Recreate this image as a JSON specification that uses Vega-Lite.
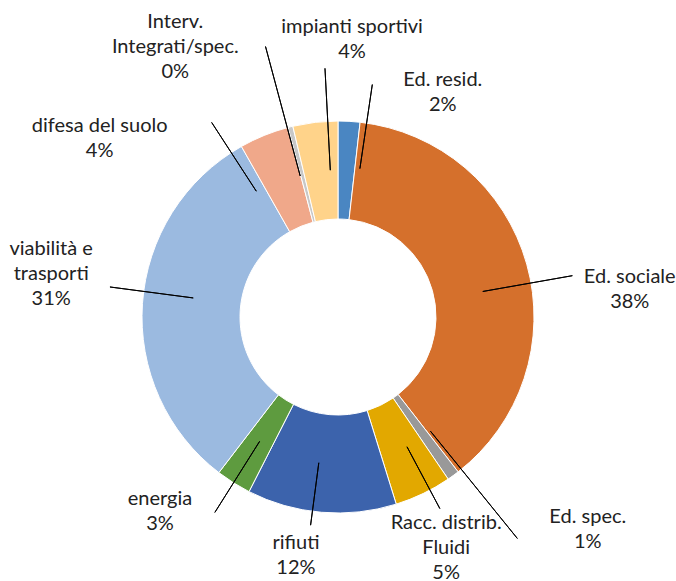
{
  "$schema": "https://vega.github.io/schema/vega-lite/v6.json",
  "width": 676,
  "height": 528,
  "autosize": {"type": "none"},
  "padding": {"left": 0, "right": 0, "top": 53, "bottom": 0},
  "background": "#ffffff",
  "config": {"view": {"stroke": null}, "text": {"font": "Lato", "fontSize": 20, "lineHeight": 25, "color": "#222222", "lineBreak": "\n", "align": "center", "baseline": "middle"}},
  "data": {"values": [
    {"idx": 1, "cat": "Ed. resid.", "label": "Ed. resid.\n2%", "value": 1.8},
    {"idx": 2, "cat": "Ed. sociale", "label": "Ed. sociale\n38%", "value": 37.7},
    {"idx": 3, "cat": "Ed. spec.", "label": "Ed. spec.\n1%", "value": 1.0},
    {"idx": 4, "cat": "Racc. distrib. Fluidi", "label": "Racc. distrib.\nFluidi\n5%", "value": 4.7},
    {"idx": 5, "cat": "rifiuti", "label": "rifiuti\n12%", "value": 12.3},
    {"idx": 6, "cat": "energia", "label": "energia\n3%", "value": 2.9},
    {"idx": 7, "cat": "viabilità e trasporti", "label": "viabilità e\ntrasporti\n31%", "value": 31.4},
    {"idx": 8, "cat": "difesa del suolo", "label": "difesa del suolo\n4%", "value": 4.1},
    {"idx": 9, "cat": "Interv. Integrati/spec.", "label": "Interv.\nIntegrati/spec.\n0%", "value": 0.4},
    {"idx": 10, "cat": "impianti sportivi", "label": "impianti sportivi\n4%", "value": 3.7}
  ]},
  "encoding": {
    "theta": {"field": "value", "type": "quantitative", "stack": true},
    "order": {"field": "idx", "type": "quantitative"}
  },
  "layer": [
    {
      "mark": {"type": "arc", "radius": 196, "radius2": 98, "stroke": "#ffffff", "strokeWidth": 1},
      "encoding": {
        "color": {"field": "cat", "type": "nominal", "legend": null,
          "scale": {"domain": ["Ed. resid.", "Ed. sociale", "Ed. spec.", "Racc. distrib. Fluidi", "rifiuti", "energia", "viabilità e trasporti", "difesa del suolo", "Interv. Integrati/spec.", "impianti sportivi"],
                    "range": ["#4A86C2", "#D5702C", "#999999", "#E2A800", "#3C63AC", "#5E9B3F", "#9BBAE0", "#F0A88A", "#C8C8C8", "#FFD38A"]}}
      }
    },
    {"layer": [
      {"mark": {"type": "arc", "radius": 235, "radius2": 150, "padAngle": 3.1, "thetaOffset": 0.09, "theta2Offset": 0.09, "fill": "#000000", "fillOpacity": 0, "stroke": "#000000", "strokeWidth": 1},
       "encoding": {"strokeOpacity": {"condition": {"test": "datum.cat === 'Ed. resid.'", "value": 1}, "value": 0}}},
      {"mark": {"type": "text", "radius": 248, "thetaOffset": 0.3798, "dy": -12.5},
       "encoding": {"text": {"condition": {"test": "datum.cat === 'Ed. resid.'", "field": "label", "type": "nominal"}, "value": ""}}}
    ]},
    {"layer": [
      {"mark": {"type": "arc", "radius": 238, "radius2": 147, "padAngle": 3.1, "thetaOffset": 0.0988, "theta2Offset": 0.0988, "fill": "#000000", "fillOpacity": 0, "stroke": "#000000", "strokeWidth": 1},
       "encoding": {"strokeOpacity": {"condition": {"test": "datum.cat === 'Ed. sociale'", "value": 1}, "value": 0}}},
      {"mark": {"type": "text", "radius": 293, "thetaOffset": 0.1808, "dy": -12.5},
       "encoding": {"text": {"condition": {"test": "datum.cat === 'Ed. sociale'", "field": "label", "type": "nominal"}, "value": ""}}}
    ]},
    {"layer": [
      {"mark": {"type": "arc", "radius": 285, "radius2": 147, "padAngle": 3.1, "thetaOffset": -0.0524, "theta2Offset": -0.0524, "fill": "#000000", "fillOpacity": 0, "stroke": "#000000", "strokeWidth": 1},
       "encoding": {"strokeOpacity": {"condition": {"test": "datum.cat === 'Ed. spec.'", "value": 1}, "value": 0}}},
      {"mark": {"type": "text", "radius": 328, "thetaOffset": -0.2374, "dy": -12.5},
       "encoding": {"text": {"condition": {"test": "datum.cat === 'Ed. spec.'", "field": "label", "type": "nominal"}, "value": ""}}}
    ]},
    {"layer": [
      {"mark": {"type": "arc", "radius": 217, "radius2": 147, "padAngle": 3.1, "thetaOffset": -0.0394, "theta2Offset": -0.0394, "fill": "#000000", "fillOpacity": 0, "stroke": "#000000", "strokeWidth": 1},
       "encoding": {"strokeOpacity": {"condition": {"test": "datum.cat === 'Racc. distrib. Fluidi'", "value": 1}, "value": 0}}},
      {"mark": {"type": "text", "radius": 255, "thetaOffset": 0.0112, "dy": -25},
       "encoding": {"text": {"condition": {"test": "datum.cat === 'Racc. distrib. Fluidi'", "field": "label", "type": "nominal"}, "value": ""}}}
    ]},
    {"layer": [
      {"mark": {"type": "arc", "radius": 210, "radius2": 147, "padAngle": 3.1, "thetaOffset": 0.0461, "theta2Offset": 0.0461, "fill": "#000000", "fillOpacity": 0, "stroke": "#000000", "strokeWidth": 1},
       "encoding": {"strokeOpacity": {"condition": {"test": "datum.cat === 'rifiuti'", "value": 1}, "value": 0}}},
      {"mark": {"type": "text", "radius": 242, "thetaOffset": 0.0897, "dy": -12.5},
       "encoding": {"text": {"condition": {"test": "datum.cat === 'rifiuti'", "field": "label", "type": "nominal"}, "value": ""}}}
    ]},
    {"layer": [
      {"mark": {"type": "arc", "radius": 231, "radius2": 147, "padAngle": 3.1, "thetaOffset": 0.0, "theta2Offset": 0.0, "fill": "#000000", "fillOpacity": 0, "stroke": "#000000", "strokeWidth": 1},
       "encoding": {"strokeOpacity": {"condition": {"test": "datum.cat === 'energia'", "value": 1}, "value": 0}}},
      {"mark": {"type": "text", "radius": 264, "thetaOffset": 0.1777, "dy": -12.5},
       "encoding": {"text": {"condition": {"test": "datum.cat === 'energia'", "field": "label", "type": "nominal"}, "value": ""}}}
    ]},
    {"layer": [
      {"mark": {"type": "arc", "radius": 230, "radius2": 146, "padAngle": 3.1, "thetaOffset": 0.0618, "theta2Offset": 0.0618, "fill": "#000000", "fillOpacity": 0, "stroke": "#000000", "strokeWidth": 1},
       "encoding": {"strokeOpacity": {"condition": {"test": "datum.cat === 'viabilità e trasporti'", "value": 1}, "value": 0}}},
      {"mark": {"type": "text", "radius": 290, "thetaOffset": 0.0792, "dy": -25},
       "encoding": {"text": {"condition": {"test": "datum.cat === 'viabilità e trasporti'", "field": "label", "type": "nominal"}, "value": ""}}}
    ]},
    {"layer": [
      {"mark": {"type": "arc", "radius": 232, "radius2": 150, "padAngle": 3.1, "thetaOffset": -0.1895, "theta2Offset": -0.1895, "fill": "#000000", "fillOpacity": 0, "stroke": "#000000", "strokeWidth": 1},
       "encoding": {"strokeOpacity": {"condition": {"test": "datum.cat === 'difesa del suolo'", "value": 1}, "value": 0}}},
      {"mark": {"type": "text", "radius": 298, "thetaOffset": -0.5404, "dy": -12.5},
       "encoding": {"text": {"condition": {"test": "datum.cat === 'difesa del suolo'", "field": "label", "type": "nominal"}, "value": ""}}}
    ]},
    {"layer": [
      {"mark": {"type": "arc", "radius": 280, "radius2": 146, "padAngle": 3.1, "thetaOffset": -0.0168, "theta2Offset": -0.0168, "fill": "#000000", "fillOpacity": 0, "stroke": "#000000", "strokeWidth": 1},
       "encoding": {"strokeOpacity": {"condition": {"test": "datum.cat === 'Interv. Integrati/spec.'", "value": 1}, "value": 0}}},
      {"mark": {"type": "text", "radius": 315, "thetaOffset": -0.2978, "dy": -25},
       "encoding": {"text": {"condition": {"test": "datum.cat === 'Interv. Integrati/spec.'", "field": "label", "type": "nominal"}, "value": ""}}}
    ]},
    {"layer": [
      {"mark": {"type": "arc", "radius": 249, "radius2": 147, "padAngle": 3.1, "thetaOffset": 0.0639, "theta2Offset": 0.0639, "fill": "#000000", "fillOpacity": 0, "stroke": "#000000", "strokeWidth": 1},
       "encoding": {"strokeOpacity": {"condition": {"test": "datum.cat === 'impianti sportivi'", "value": 1}, "value": 0}}},
      {"mark": {"type": "text", "radius": 278, "thetaOffset": 0.1669, "dy": -12.5},
       "encoding": {"text": {"condition": {"test": "datum.cat === 'impianti sportivi'", "field": "label", "type": "nominal"}, "value": ""}}}
    ]}
  ]
}
